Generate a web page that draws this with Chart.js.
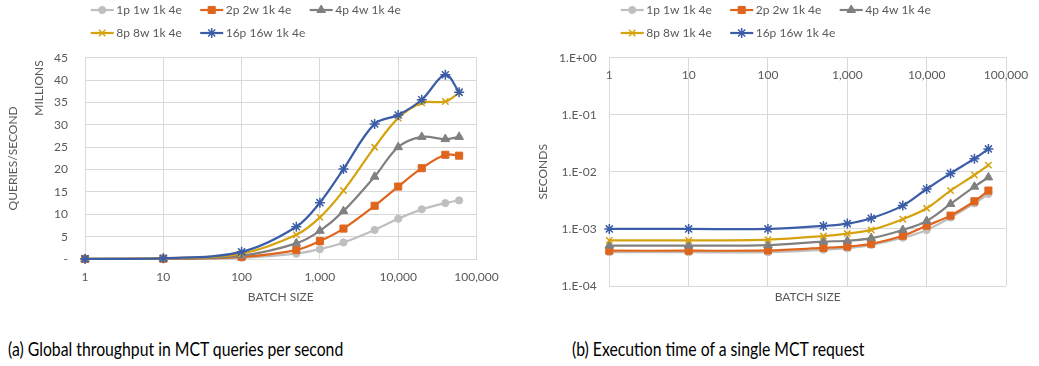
<!DOCTYPE html>
<html><head><meta charset="utf-8">
<script src="https://cdn.jsdelivr.net/npm/chart.js@4/dist/chart.umd.min.js"></script>
<style>
html,body{margin:0;padding:0;background:#fff;width:1039px;height:366px;overflow:hidden;position:relative}
canvas{position:absolute;top:0}
#ca{left:0}
#cb{left:520px}
.cap{position:absolute;top:336px;font-family:Lato,sans-serif;font-size:19px;color:#000;white-space:nowrap;line-height:26px;transform:scaleX(0.83);transform-origin:0 50%}
</style></head><body>
<canvas id="ca" width="519" height="315"></canvas>
<canvas id="cb" width="519" height="315"></canvas>
<div class="cap" style="left:8px">(a) Global throughput in MCT queries per second</div>
<div class="cap" style="left:572px">(b) Execution time of a single MCT request</div>
<script>
// ---- data ----
const batchSizes = [1, 10, 100, 500, 1000, 2000, 5000, 10000, 20000, 40000, 60000];
const seriesNames = ['1p 1w 1k 4e', '2p 2w 1k 4e', '4p 4w 1k 4e', '8p 8w 1k 4e', '16p 16w 1k 4e'];
// throughput, millions of queries per second
const tput1p  = [0.003, 0.026, 0.26, 1.2, 2.2, 3.7, 6.5, 9.0, 11.1, 12.5, 13.1];
const tput2p  = [0.005, 0.05, 0.48, 2.0, 4.0, 6.8, 11.9, 16.2, 20.3, 23.3, 23.1];
const tput4p  = [0.008, 0.08, 0.77, 3.5, 6.3, 10.7, 18.4, 25.0, 27.3, 26.8, 27.3];
const tput8p  = [0.013, 0.13, 1.2, 5.4, 9.3, 15.3, 25.0, 31.5, 34.9, 35.2, 37.2];
const tput16p = [0.016, 0.16, 1.6, 7.2, 12.6, 20.1, 30.2, 32.2, 35.6, 41.2, 37.3];
// execution time, seconds
const time1p  = [3.9e-4, 3.9e-4, 3.9e-4, 4.3e-4, 4.6e-4, 5.25e-4, 7.0e-4, 9.6e-4, 1.58e-3, 2.8e-3, 4.1e-3];
const time2p  = [4.15e-4, 4.15e-4, 4.2e-4, 4.65e-4, 4.9e-4, 5.5e-4, 7.6e-4, 1.14e-3, 1.71e-3, 3.05e-3, 4.7e-3];
const time4p  = [5.1e-4, 5.1e-4, 5.2e-4, 6.0e-4, 6.2e-4, 6.9e-4, 9.6e-4, 1.38e-3, 2.74e-3, 5.5e-3, 8.0e-3];
const time8p  = [6.3e-4, 6.3e-4, 6.5e-4, 7.5e-4, 8.3e-4, 9.6e-4, 1.48e-3, 2.3e-3, 4.7e-3, 8.8e-3, 1.31e-2];
const time16p = [1.0e-3, 1.0e-3, 1.0e-3, 1.13e-3, 1.24e-3, 1.54e-3, 2.56e-3, 5.0e-3, 9.4e-3, 1.7e-2, 2.52e-2];
// tick labels
const xTickValues = [1, 10, 100, 1000, 10000, 100000];
const yTicksLeft = [0, 5, 10, 15, 20, 25, 30, 35, 40, 45];
const yTicksRight = [1e-4, 1e-3, 1e-2, 1e-1, 1];

// ---- styles ----
const colors = ['#BFBFBF', '#E0651C', '#808080', '#D6A20F', '#3B5DA7'];
const styles = ['circle', 'rect', 'triangle', 'crossRot', 'star'];
const radii = [3.6, 5, 5, 4.5, 5];
const FONT = 'Lato';
const TXT = '#595959';
const GRID = '#D9D9D9';

function makeDatasets(series) {
  return series.map((arr, i) => ({
    label: seriesNames[i],
    data: batchSizes.map((x, j) => ({x: x, y: arr[j]})),
    borderColor: colors[i],
    backgroundColor: colors[i],
    pointBackgroundColor: colors[i],
    pointBorderColor: colors[i],
    pointStyle: styles[i],
    pointRadius: radii[i],
    pointBorderWidth: (styles[i] === 'crossRot' || styles[i] === 'star') ? 1.5 : 1,
    borderWidth: 2.2,
    tension: 0.35,
    clip: false,
    order: -i
  }));
}

const legendPlugin = {
  id: 'xlLegend',
  afterDraw(chart, args, opts) {
    const ctx = chart.ctx;
    ctx.save();
    chart.data.datasets.forEach((ds, i) => {
      const col = i % 3, row = Math.floor(i / 3);
      const x0 = opts.x + col * 109.5, y0 = opts.y + row * 23;
      ctx.strokeStyle = ds.borderColor;
      ctx.lineWidth = 2.2;
      ctx.beginPath(); ctx.moveTo(x0, y0); ctx.lineTo(x0 + 23, y0); ctx.stroke();
      ctx.fillStyle = ds.pointBackgroundColor;
      ctx.strokeStyle = ds.pointBorderColor;
      ctx.lineWidth = ds.pointBorderWidth;
      Chart.helpers.drawPoint(ctx, {pointStyle: ds.pointStyle, radius: ds.pointRadius, borderWidth: ds.pointBorderWidth, rotation: 0}, x0 + 11.5, y0);
      ctx.fillStyle = TXT;
      ctx.font = '12px ' + FONT;
      ctx.textBaseline = 'middle';
      ctx.textAlign = 'left';
      ctx.fillText(ds.label, x0 + 25.5, y0 + 0.5);
    });
    ctx.restore();
  }
};

const unitPlugin = {
  id: 'unitLabel',
  afterDraw(chart, args, opts) {
    if (!opts.text) return;
    const ctx = chart.ctx;
    ctx.save();
    ctx.translate(opts.x, opts.y);
    ctx.rotate(-Math.PI / 2);
    ctx.fillStyle = TXT;
    ctx.font = '12px ' + FONT;
    ctx.textAlign = 'center';
    ctx.textBaseline = 'middle';
    ctx.fillText(opts.text, 0, 0);
    ctx.restore();
  }
};

const fmtX = v => Number(v).toLocaleString('en-US');
const fmtE = v => { const e = Math.round(Math.log10(v)); return '1.E' + (e < 0 ? '-' : '+') + String(Math.abs(e)).padStart(2, '0'); };
const tickFont = {family: FONT, size: 12};

// ---- chart (a) ----
new Chart(document.getElementById('ca'), {
  type: 'line',
  data: {datasets: makeDatasets([tput1p, tput2p, tput4p, tput8p, tput16p])},
  plugins: [legendPlugin, unitPlugin],
  options: {
    responsive: false, animation: false,
    layout: {padding: {top: 57.7, right: 42.5, bottom: 0, left: 0}},
    plugins: {
      legend: {display: false}, tooltip: {enabled: false},
      xlLegend: {x: 90.7, y: 10},
      unitLabel: {text: 'MILLIONS', x: 39, y: 88}
    },
    scales: {
      x: {
        type: 'logarithmic', position: 'bottom', min: 1, max: 100000,
        afterBuildTicks: s => { s.ticks = xTickValues.map(v => ({value: v})); },
        afterFit: s => { s.height = 56; },
        ticks: {callback: fmtX, color: TXT, font: tickFont, padding: 10.8, maxRotation: 0, autoSkip: false},
        grid: {color: GRID, drawTicks: false, lineWidth: 1},
        border: {color: GRID},
        title: {display: true, text: 'BATCH SIZE', color: TXT, font: tickFont, padding: {top: 0, bottom: 11.1}}
      },
      y: {
        type: 'linear', min: 0, max: 45,
        afterBuildTicks: s => { s.ticks = yTicksLeft.map(v => ({value: v})); },
        afterFit: s => { s.width = 85; },
        ticks: {callback: v => v === 0 ? '-' : String(v), color: TXT, font: tickFont, padding: 17},
        grid: {color: GRID, drawTicks: false},
        border: {display: false},
        title: {display: true, text: 'QUERIES/SECOND', color: TXT, font: tickFont, padding: {top: 5.8, bottom: 0}}
      }
    }
  }
});

// ---- chart (b) ----
new Chart(document.getElementById('cb'), {
  type: 'line',
  data: {datasets: makeDatasets([time1p, time2p, time4p, time8p, time16p])},
  plugins: [legendPlugin],
  options: {
    responsive: false, animation: false,
    layout: {padding: {top: 57.7, right: 33, bottom: 0, left: 0}},
    plugins: {
      legend: {display: false}, tooltip: {enabled: false},
      xlLegend: {x: 100.7, y: 10}
    },
    scales: {
      x: {
        type: 'logarithmic', position: {y: 1}, min: 1, max: 100000,
        afterBuildTicks: s => { s.ticks = xTickValues.map(v => ({value: v})); },
        ticks: {callback: fmtX, color: TXT, font: tickFont, padding: 10.1, maxRotation: 0, autoSkip: false},
        grid: {color: GRID, drawTicks: false},
        border: {color: GRID}
      },
      x2: {
        type: 'logarithmic', axis: 'x', position: 'bottom', min: 1, max: 100000,
        afterFit: s => { s.height = 29; },
        ticks: {display: false},
        grid: {display: false, drawTicks: false},
        border: {display: false},
        title: {display: true, text: 'BATCH SIZE', color: TXT, font: tickFont, padding: {top: 0, bottom: 11.1}}
      },
      y: {
        type: 'logarithmic', min: 1e-4, max: 1,
        afterBuildTicks: s => { s.ticks = yTicksRight.map(v => ({value: v})); },
        afterFit: s => { s.width = 89.3; },
        ticks: {callback: fmtE, color: TXT, font: tickFont, padding: 12.6},
        grid: {color: GRID, drawTicks: false},
        border: {display: false},
        title: {display: true, text: 'SECONDS', color: TXT, font: tickFont, padding: {top: 15.5, bottom: 0}}
      }
    }
  }
});
</script>
</body></html>
